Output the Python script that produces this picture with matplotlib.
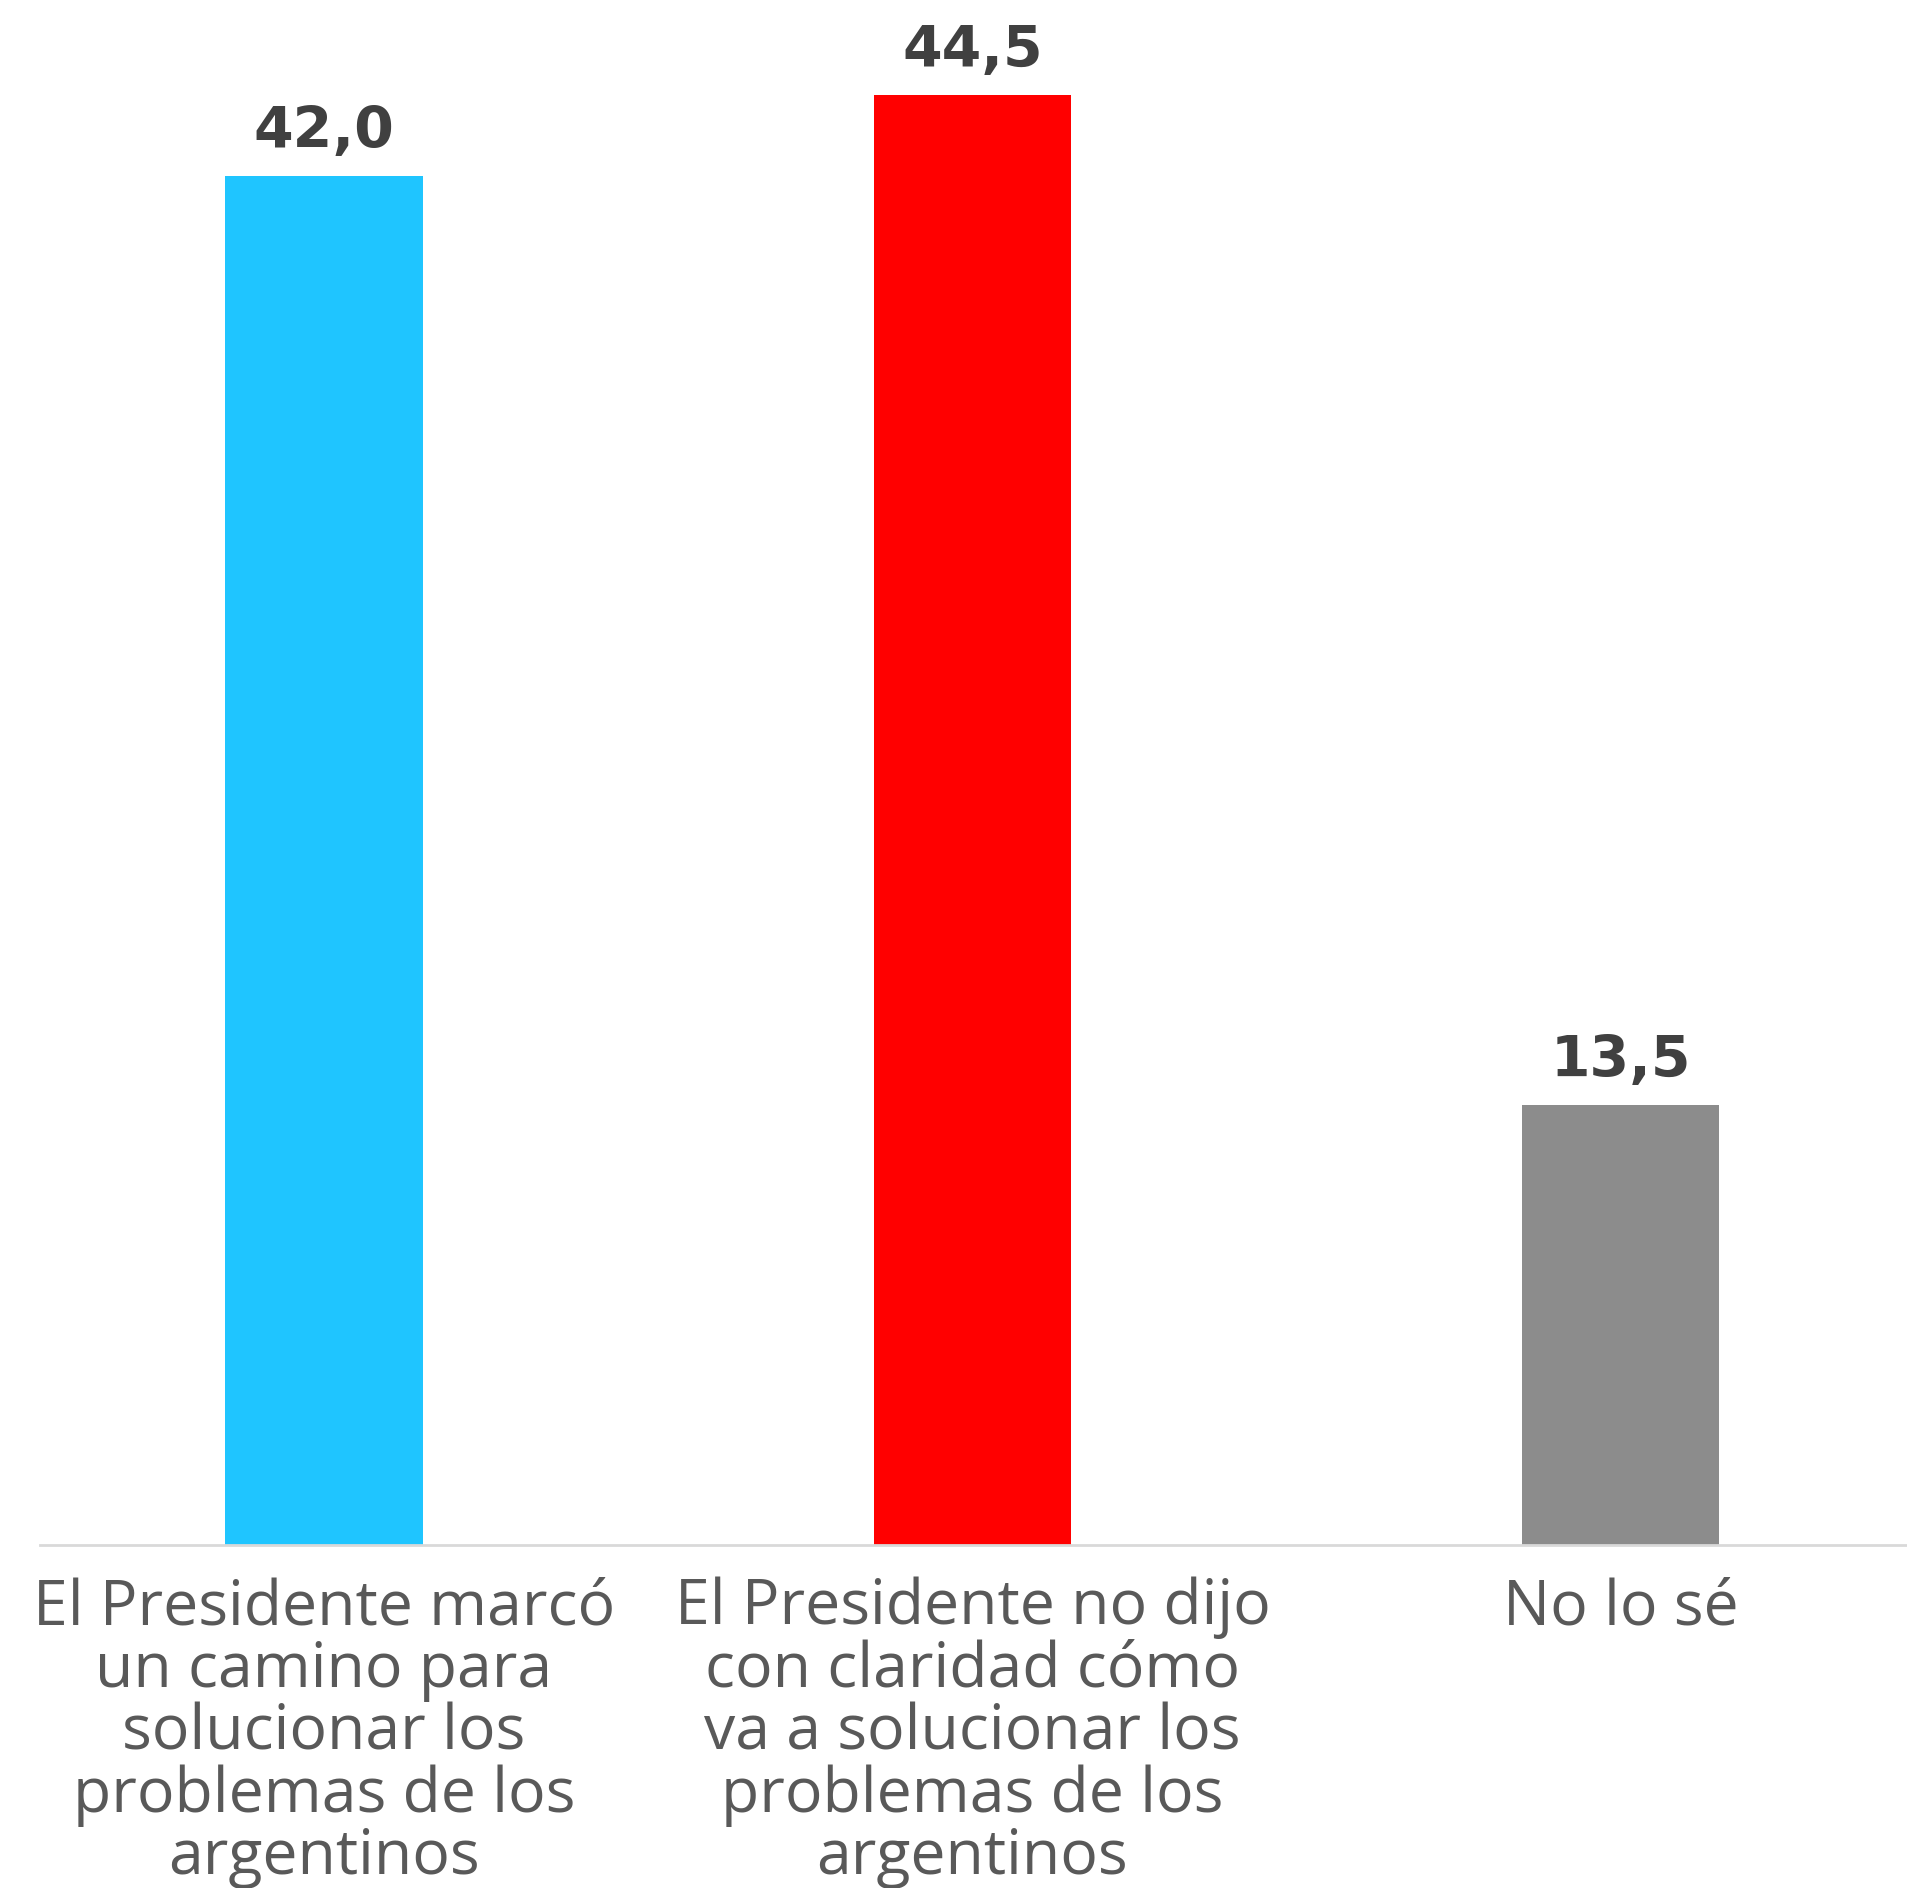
import matplotlib.pyplot as plt

# Datos del grafico
categorias = [
    "El Presidente marcó\nun camino para\nsolucionar los\nproblemas de los\nargentinos",
    "El Presidente no dijo\ncon claridad cómo\nva a solucionar los\nproblemas de los\nargentinos",
    "No lo sé",
]
valores = [42.0, 44.5, 13.5]
etiquetas_valor = ["42,0", "44,5", "13,5"]
colores = ["#1FC5FF", "#FF0000", "#8C8C8C"]

fig = plt.figure(figsize=(19.08, 18.88), dpi=100)
ax = fig.add_axes([40 / 1908, 1 - 1545 / 1888, 1 - 40 / 1908, 1545 / 1888])

posiciones = range(len(valores))
barras = ax.bar(posiciones, valores, width=0.304, color=colores)

# Etiquetas de valor sobre cada barra
for barra, texto in zip(barras, etiquetas_valor):
    ax.annotate(texto, (barra.get_x() + barra.get_width() / 2, barra.get_height()),
                xytext=(0, 20), textcoords="offset points", ha="center", va="baseline",
                fontsize=41, fontweight="bold", color="#404040", family="DejaVu Sans")

ax.set_xlim(-0.438, 2.443)
ax.set_ylim(0, 47.4)

ax.set_xticks(list(posiciones))
ax.set_xticklabels(categorias, fontsize=45, color="#595959", family="Open Sans",
                   linespacing=1.0, va="top")
ax.tick_params(axis="x", length=0, pad=23)
ax.set_yticks([])

for lado in ["top", "right", "left"]:
    ax.spines[lado].set_visible(False)
ax.spines["bottom"].set_color("#D9D9D9")
ax.spines["bottom"].set_linewidth(2)

fig.savefig("out.png", dpi=100)
plt.close(fig)
